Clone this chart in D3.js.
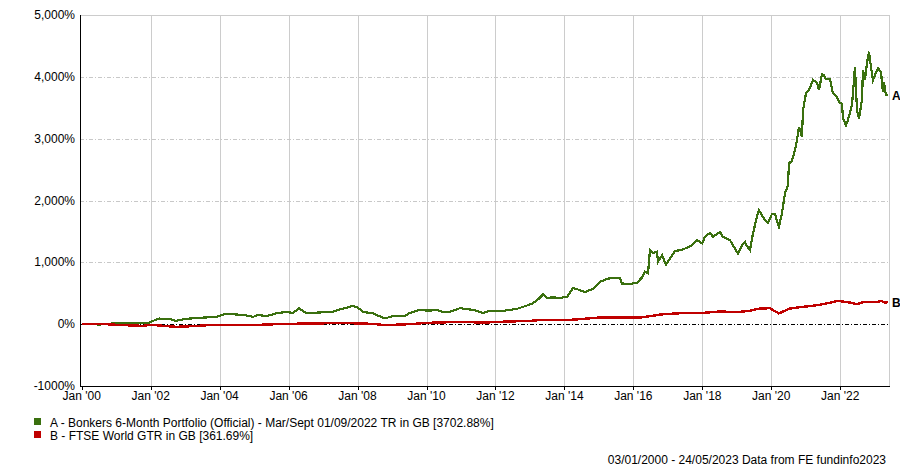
<!DOCTYPE html>
<html><head><meta charset="utf-8">
<script src="https://cdn.jsdelivr.net/npm/d3@7"></script>
<style>
html,body{margin:0;padding:0;background:#fff;}
svg{display:block;}
text{font-family:"Liberation Sans",Arial,sans-serif;font-size:12px;fill:#000;}
</style></head>
<body>
<svg id="chart" width="900" height="467"></svg>
<script>
// ---- data (decimal years, % growth) ----
const seriesNames = ["A - Bonkers 6-Month Portfolio (Official) - Mar/Sept 01/09/2022 TR in GB [3702.88%]",
                     "B - FTSE World GTR in GB [361.69%]"];
const seriesTags = ["A", "B"];
const seriesColors = ["#3a700f", "#c00000"];

const aYears = [2000.01,2000.125,2000.531,2000.792,2000.966,2001.285,2001.691,2001.952,2002.068,2002.242,2002.445,2002.561,2002.735,2003.025,2003.402,2003.895,2004.185,2004.678,2004.968,2005.113,2005.345,2005.635,2005.925,2006.128,2006.302,2006.505,2007.085,2007.288,2007.491,2007.839,2007.984,2008.158,2008.448,2008.796,2009.028,2009.376,2009.521,2009.753,2010.101,2010.304,2010.478,2010.681,2010.971,2011.348,2011.638,2011.841,2012.218,2012.625,2012.915,2013.089,2013.234,2013.379,2013.495,2013.669,2013.872,2014.075,2014.249,2014.452,2014.597,2014.829,2015.032,2015.235,2015.409,2015.612,2015.670,2015.902,2016.105,2016.250,2016.337,2016.424,2016.482,2016.569,2016.685,2016.714,2016.830,2016.946,2017.062,2017.207,2017.439,2017.700,2017.845,2017.990,2018.077,2018.222,2018.309,2018.425,2018.512,2018.599,2018.802,2018.889,2019.034,2019.150,2019.237,2019.295,2019.382,2019.469,2019.585,2019.643,2019.817,2019.904,2020.020,2020.107,2020.223,2020.310,2020.397,2020.484,2020.513,2020.600,2020.687,2020.745,2020.803,2020.890,2020.919,2021.006,2021.093,2021.209,2021.325,2021.383,2021.470,2021.528,2021.586,2021.702,2021.789,2021.905,2021.963,2022.050,2022.079,2022.166,2022.224,2022.340,2022.369,2022.427,2022.485,2022.543,2022.630,2022.659,2022.717,2022.775,2022.833,2022.891,2022.949,2023.007,2023.094,2023.181,2023.239,2023.268,2023.326,2023.39];
const aValues = [0,0,-5,5,20,15,20,20,53,92,76,85,53,86,102,118,167,150,118,150,130,173,199,180,259,178,194,200,238,291,280,199,173,92,134,134,183,226,220,230,199,199,259,231,183,215,215,248,302,340,400,480,426,432,426,442,587,550,518,571,684,733,749,750,658,650,670,755,846,820,1197,1150,1170,1008,1116,960,1063,1181,1208,1278,1359,1305,1413,1477,1413,1460,1488,1413,1359,1278,1144,1278,1332,1260,1197,1467,1736,1845,1683,1639,1780,1780,1574,1791,2115,2249,2600,2642,2815,2977,3192,3031,3463,3733,3786,3948,3904,3786,4045,4030,3959,3960,3733,3679,3597,3560,3328,3220,3301,3544,3733,4163,3463,3328,3624,4110,3948,4218,4407,4163,3948,4029,4137,4083,3761,3920,3705,3702.88];

const bYears = [2000.01,2000.53,2001.2,2001.78,2001.98,2002.735,2003.11,2003.69,2004.85,2005.925,2007.29,2007.84,2008.45,2008.8,2009.52,2010.02,2010.97,2011.7,2012.05,2013.0,2013.38,2014.17,2014.45,2015.03,2015.82,2016.2,2016.55,2016.79,2017.06,2017.56,2018.02,2018.51,2019.0,2019.38,2019.59,2019.96,2020.22,2020.54,2020.92,2021.33,2021.70,2021.93,2022.28,2022.49,2022.66,2023.07,2023.2,2023.3,2023.39];
const bValues = [0,5,-16,-27,-10,-43,-35,-16,-16,5,16,15,5,-16,0,21,37,25,37,53,70,70,81,108,105,108,134,157,167,183,183,205,195,215,248,259,173,253,280,307,345,377,350,324,356,356,377,345,361.69];

const yTicks = [-1000, 0, 1000, 2000, 3000, 4000, 5000];
const yTickLabels = ["-1000%", "0%", "1,000%", "2,000%", "3,000%", "4,000%", "5,000%"];
const xTickYears = [2000, 2002, 2004, 2006, 2008, 2010, 2012, 2014, 2016, 2018, 2020, 2022];
const dateRange = ["2000-01-01", "2023-05-24"];
const footerText = "03/01/2000 - 24/05/2023 Data from FE fundinfo2023";

// ---- helpers ----
function yearToDate(y) {
  const yr = Math.floor(y);
  const start = Date.UTC(yr, 0, 1), end = Date.UTC(yr + 1, 0, 1);
  return new Date(start + (y - yr) * (end - start));
}

const svg = d3.select("#chart");
const L = 80, R = 889, T = 15, B = 386;

const x = d3.scaleUtc()
  .domain(dateRange.map(d => new Date(d + "T00:00:00Z")))
  .range([81.7, 888.2]);
const y = d3.scaleLinear().domain([-1000, 5000]).range([B, T]);

// vertical gridlines
svg.append("g").selectAll("line").data(xTickYears.slice(1)).join("line")
  .attr("x1", d => Math.round(x(yearToDate(d))) + 0.5)
  .attr("x2", d => Math.round(x(yearToDate(d))) + 0.5)
  .attr("y1", T).attr("y2", B)
  .attr("stroke", "#cccccc").attr("stroke-width", 1);

// horizontal gridlines
svg.append("g").selectAll("line").data(yTicks.filter(v => v !== 0 && v !== -1000 && v !== 5000)).join("line")
  .attr("x1", L).attr("x2", R)
  .attr("y1", d => Math.round(y(d)) + 0.5).attr("y2", d => Math.round(y(d)) + 0.5)
  .attr("stroke", "#c8c8c8").attr("stroke-width", 1).attr("stroke-dasharray", "4,2,1,2");

// top and right border
svg.append("line").attr("x1", L).attr("x2", R + 0.5).attr("y1", T + 0.5).attr("y2", T + 0.5)
  .attr("stroke", "#cccccc");
svg.append("line").attr("x1", R + 0.5).attr("x2", R + 0.5).attr("y1", T).attr("y2", B)
  .attr("stroke", "#cccccc");

// zero line
svg.append("line").attr("x1", L).attr("x2", R)
  .attr("y1", Math.round(y(0)) + 0.5).attr("y2", Math.round(y(0)) + 0.5)
  .attr("stroke", "#000").attr("stroke-width", 1).attr("stroke-dasharray", "4,2,1,2");

// series lines
const line = d3.line().x(d => x(yearToDate(d[0]))).y(d => y(d[1]));
const bData = bYears.map((d, i) => [d, bValues[i]]);
const aData = aYears.map((d, i) => [d, aValues[i]]);
svg.append("path").datum(aData).attr("d", line)
  .attr("fill", "none").attr("stroke", seriesColors[0]).attr("stroke-width", 2.2)
  .attr("stroke-linejoin", "miter").attr("shape-rendering", "crispEdges");
svg.append("path").datum(bData).attr("d", line)
  .attr("fill", "none").attr("stroke", seriesColors[1]).attr("stroke-width", 2.4)
  .attr("shape-rendering", "crispEdges");

// axes lines
svg.append("line").attr("x1", L + 0.5).attr("x2", L + 0.5).attr("y1", T).attr("y2", B + 1)
  .attr("stroke", "#000");
svg.append("line").attr("x1", L).attr("x2", R + 1).attr("y1", B + 0.5).attr("y2", B + 0.5)
  .attr("stroke", "#000");

// y labels
svg.append("g").selectAll("text").data(yTicks).join("text")
  .attr("x", 75).attr("y", d => y(d) + 4)
  .attr("text-anchor", "end")
  .text((d, i) => yTickLabels[i]);

// x ticks and labels
const xg = svg.append("g");
xg.selectAll("line").data(xTickYears).join("line")
  .attr("x1", d => Math.round(x(yearToDate(d))) + 0.5)
  .attr("x2", d => Math.round(x(yearToDate(d))) + 0.5)
  .attr("y1", B).attr("y2", B + 4).attr("stroke", "#000");
xg.selectAll("text").data(xTickYears).join("text")
  .attr("x", d => x(yearToDate(d)))
  .attr("y", 400)
  .attr("text-anchor", "middle")
  .text(d => "Jan '" + String(d % 100).padStart(2, "0"));

// end tags
const endVals = [aValues[aValues.length - 1], bValues[bValues.length - 1]];
svg.append("g").selectAll("text").data(seriesTags).join("text")
  .attr("x", 892).attr("y", (d, i) => y(endVals[i]) + 5)
  .style("font-weight", "bold").style("font-size", "12px")
  .text(d => d);

// legend
const lg = svg.append("g");
seriesNames.forEach((n, i) => {
  lg.append("rect").attr("x", 34).attr("y", 418 + i * 13).attr("width", 7).attr("height", 7)
    .attr("fill", seriesColors[i]);
  lg.append("text").attr("x", 50).attr("y", 427 + i * 13).text(n);
});

// footer
svg.append("text").attr("x", 886).attr("y", 464).attr("text-anchor", "end").text(footerText);
</script>
</body></html>
